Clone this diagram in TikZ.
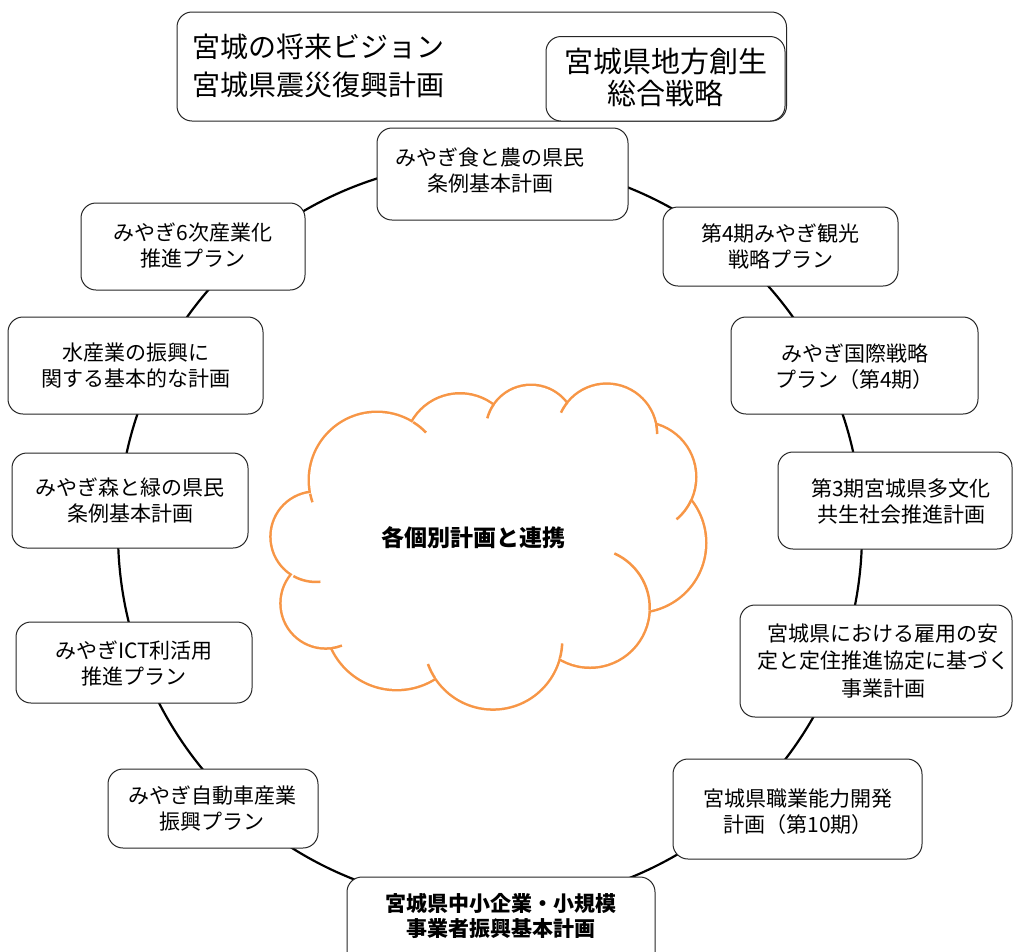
\documentclass[tikz,border=0pt]{standalone}
\usepackage{fontspec}
\setmainfont{Noto Sans CJK JP}
\usetikzlibrary{calc}
\definecolor{cloudorange}{RGB}{247,150,70}
\begin{document}
\begin{tikzpicture}[x=1pt,y=-1pt,
  planbox/.style={draw=black!85, line width=1pt, rounded corners=15pt, fill=white, inner sep=0pt},
  plantext/.style={align=center, inner sep=0pt, font=\fontsize{21}{26}\selectfont},
  bigtext/.style={align=left, inner sep=0pt, font=\fontsize{28}{38}\selectfont},
  ringline/.style={line width=2.2pt, black},
  cloudstroke/.style={draw=cloudorange, line width=5pt},
  cloudtick/.style={draw=cloudorange, line width=2.5pt}
]
\useasboundingbox (0,0) rectangle (1014,951);
\clip (0,0) rectangle (1014,951);
\fill[white] (0,0) rectangle (1014,951);

% ring
\coordinate (ringc) at (490,533);
\draw[ringline] (ringc) circle[radius=372pt];

% cloud: union of lobes
\def\lobes{377/480/67, 460/449/54.5, 531/430/44, 606.7/434/49.2, 641/477/54, 636.5/543/68.5, 590/608/58.5, 493/640.3/68, 396.7/617.9/71, 325.7/603.3/44, 315.7/536.7/44}
\foreach \cx/\cy/\r in \lobes { \draw[cloudstroke] (\cx,\cy) circle[radius=\r pt]; }
\foreach \cx/\cy/\r in \lobes { \fill[white] (\cx,\cy) circle[radius=\r pt]; }
\fill[white] (377,480) -- (460,449) -- (531,430) -- (606.7,434) -- (641,477) -- (636.5,543) -- (590,608) -- (493,640.3) -- (396.7,617.9) -- (325.7,603.3) -- (315.7,536.7) -- cycle;
% inner arcs of the cloud
\foreach \cx/\cy/\r/\a/\b in {377/480/67/191.5/199, 377/480/67/58/44, 531/430/44/146/165, 606.7/434/49.2/141/155, 606.7/434/49.2/11/0, 641/477/54/-25/-50, 590/608/58.5/-2/66, 493/640.3/68/-15/-2.6, 493/640.3/68/213/200, 325.7/603.3/44/-82/-69, 315.7/536.7/44/-119.5/-84}
  { \draw[cloudtick] (\cx,\cy) ++(\a:\r pt+1.25pt) arc[start angle=\a, end angle=\b, radius=\r pt+1.25pt]; }
\node[inner sep=0pt, font=\fontsize{23}{28}\selectfont\bfseries] (cloudtext) at (473,538) {各個別計画と連携};

% top boxes
\node[planbox, minimum width=609.5pt, minimum height=109pt] (vision) at (481.75,66.5) {};
\node[bigtext, anchor=west] (visiontext) at (192,66) {宮城の将来ビジョン\\宮城県震災復興計画};
\node[planbox, minimum width=239pt, minimum height=84.5pt] (sousei) at (665.5,78.75) {};
\node[align=center, inner sep=0pt, font=\fontsize{29}{32}\selectfont] (souseitext) at (665.5,77) {宮城県地方創生\\総合戦略};

% ring boxes
\node[planbox, minimum width=251pt, minimum height=92pt] (shoku) at (502.5,174) {};
\node[plantext] (shokutext) at (490,171) {みやぎ食と農の県民\\条例基本計画};

\node[planbox, minimum width=224pt, minimum height=87pt] (rokuji) at (193,246.5) {};
\node[plantext] (rokujitext) at (193,246) {みやぎ6次産業化\\推進プラン};

\node[planbox, minimum width=235pt, minimum height=79pt] (kanko) at (780.5,246.5) {};
\node[plantext] (kankotext) at (780.5,246) {第4期みやぎ観光\\戦略プラン};

\node[planbox, minimum width=255pt, minimum height=97pt] (suisan) at (135.5,365.5) {};
\node[plantext] (suisantext) at (135.5,366) {水産業の振興に\\関する基本的な計画};

\node[planbox, minimum width=247pt, minimum height=97pt] (kokusai) at (854.5,365.5) {};
\node[plantext] (kokusaitext) at (854.5,367) {みやぎ国際戦略\\プラン（第4期）};

\node[planbox, minimum width=236pt, minimum height=95pt] (mori) at (130,500.5) {};
\node[plantext] (moritext) at (130,500.5) {みやぎ森と緑の県民\\条例基本計画};

\node[planbox, minimum width=234pt, minimum height=97pt] (tabunka) at (895,500.5) {};
\node[plantext] (tabunkatext) at (901,501) {第3期宮城県多文化\\共生社会推進計画};

\node[planbox, minimum width=236pt, minimum height=81pt] (ict) at (134,662.5) {};
\node[plantext] (icttext) at (134,663) {みやぎICT利活用\\推進プラン};

\node[planbox, minimum width=272pt, minimum height=112pt] (koyo) at (876,661) {};
\node[plantext, font=\fontsize{21}{27.5}\selectfont] (koyotext) at (883,661) {宮城県における雇用の安\\定と定住推進協定に基づく\\事業計画};

\node[planbox, minimum width=210pt, minimum height=79pt] (jidosha) at (213,808.5) {};
\node[plantext] (jidoshatext) at (212,809) {みやぎ自動車産業\\振興プラン};

\node[planbox, minimum width=249pt, minimum height=100pt] (shokugyo) at (797.5,809) {};
\node[plantext] (shokugyotext) at (798,812) {宮城県職業能力開発\\計画（第10期）};

\node[planbox, minimum width=308pt, minimum height=98pt] (chusho) at (501,926) {};
\node[plantext, font=\fontsize{21}{25}\selectfont\bfseries] (chushotext) at (501,915.5) {宮城県中小企業・小規模\\事業者振興基本計画};
\end{tikzpicture}
\end{document}
